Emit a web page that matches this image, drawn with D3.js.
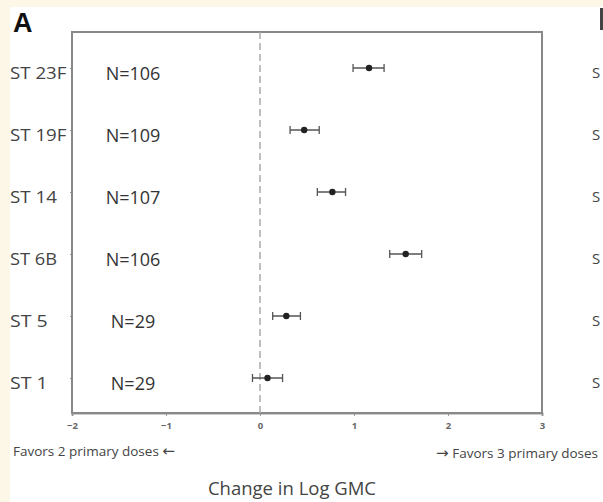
<!DOCTYPE html>
<html>
<meta charset="utf-8">
<head>
<script src="https://d3js.org/d3.v7.min.js"></script>
<style>
  body { margin: 0; background: #fff; }
  text { font-family: "Open Sans", "Noto Sans", sans-serif; }
</style>
</head>
<body>
<div id="my_dataviz"></div>
<script>
// serotypes from top to bottom
var serotypes = ["ST 23F", "ST 19F", "ST 14", "ST 6B", "ST 5", "ST 1"];
var counts = ["N=106", "N=109", "N=107", "N=106", "N=29", "N=29"];
var estimate = [1.16, 0.47, 0.77, 1.55, 0.28, 0.08];
var lower = [0.99, 0.32, 0.61, 1.38, 0.135, -0.08];
var upper = [1.32, 0.63, 0.91, 1.72, 0.43, 0.24];
var xTicks = [-2, -1, 0, 1, 2, 3];

var W = 603, H = 502;
var margin = {top: 32, right: 61, bottom: 89, left: 72},
    width = W - margin.left - margin.right,
    height = H - margin.top - margin.bottom;

var root = d3.select("#my_dataviz").append("svg")
    .attr("width", W).attr("height", H);

// cream page edge of the original figure
root.append("rect").attr("x", 0).attr("y", 0).attr("width", W).attr("height", H).attr("fill", "#fcf7e6");
root.append("rect").attr("x", 10).attr("y", 7).attr("width", W - 10).attr("height", H - 7).attr("fill", "#fff");

var svg = root.append("g")
    .attr("transform", "translate(" + margin.left + "," + margin.top + ")");

var x = d3.scaleLinear().domain([-2, 3]).range([0, width]);
var y = d3.scalePoint().domain(serotypes).range([36, height - 35]);

// x axis
var xAxis = svg.append("g")
    .attr("transform", "translate(0," + height + ")")
    .call(d3.axisBottom(x).tickValues(xTicks).tickSize(3).tickPadding(6).tickFormat(d3.format("d")));
xAxis.select(".domain").attr("stroke", "#999").attr("stroke-width", 2);
xAxis.selectAll(".tick line").attr("stroke", "#999");
xAxis.selectAll(".tick text").attr("fill", "#666").style("font-size", "9.5px").style("font-weight", "bold");

// y axis
var yAxis = svg.append("g")
    .call(d3.axisLeft(y).tickSize(2).tickPadding(3));
yAxis.select(".domain").remove();
yAxis.selectAll(".tick line").attr("stroke", "#999");
yAxis.selectAll(".tick text").attr("fill", "#444").attr("dy", "0.65em")
    .attr("text-anchor", "start").attr("x", -62).style("font-size", "16.5px")
    .attr("textLength", function(d) { return d.length * 9.4; }).attr("lengthAdjust", "spacingAndGlyphs");

// frame
svg.append("rect").attr("x", 0).attr("y", 0).attr("width", width).attr("height", height)
    .attr("fill", "none").attr("stroke", "#888").attr("stroke-width", 2);

// line of no difference
svg.append("line")
    .attr("x1", x(0)).attr("x2", x(0)).attr("y1", 0).attr("y2", height)
    .attr("stroke", "#aaa").attr("stroke-width", 1.5).attr("stroke-dasharray", "7,4");

// N labels
svg.selectAll(".nlab").data(counts).enter().append("text")
    .attr("x", 61).attr("y", function(d, i) { return y(serotypes[i]); })
    .attr("dy", "0.65em").attr("text-anchor", "middle")
    .attr("fill", "#333").style("font-size", "18px")
    .text(function(d) { return d; });

// error bars
var rows = svg.selectAll(".row").data(serotypes).enter().append("g");
rows.append("line")
    .attr("x1", function(d, i) { return x(lower[i]); })
    .attr("x2", function(d, i) { return x(upper[i]); })
    .attr("y1", function(d) { return y(d); }).attr("y2", function(d) { return y(d); })
    .attr("stroke", "#555").attr("stroke-width", 1.5);
rows.append("line")
    .attr("x1", function(d, i) { return x(lower[i]); })
    .attr("x2", function(d, i) { return x(lower[i]); })
    .attr("y1", function(d) { return y(d) - 4; }).attr("y2", function(d) { return y(d) + 4; })
    .attr("stroke", "#555").attr("stroke-width", 1.3);
rows.append("line")
    .attr("x1", function(d, i) { return x(upper[i]); })
    .attr("x2", function(d, i) { return x(upper[i]); })
    .attr("y1", function(d) { return y(d) - 4; }).attr("y2", function(d) { return y(d) + 4; })
    .attr("stroke", "#555").attr("stroke-width", 1.3);
rows.append("circle")
    .attr("cx", function(d, i) { return x(estimate[i]); })
    .attr("cy", function(d) { return y(d); })
    .attr("r", 3.2).attr("fill", "#222");

// panel letter
root.append("text").attr("x", 13).attr("y", 32)
    .style("font-family", "Liberation Sans, Arial, sans-serif")
    .style("font-size", "27px").style("font-weight", "bold").attr("fill", "#111").text("A");

// neighbouring panel, at the edge
root.append("rect").attr("x", 600).attr("y", 8).attr("width", 3).attr("height", 22).attr("fill", "#444");
root.selectAll(".bcut").data(serotypes).enter().append("text")
    .attr("x", 592).attr("y", function(d) { return margin.top + y(d); })
    .attr("dy", "0.65em").attr("fill", "#444").style("font-size", "15px")
    .text("S");

// direction notes
var left = root.append("text").attr("x", 13).attr("y", 456)
    .attr("fill", "#444").style("font-size", "13.5px");
left.append("tspan").text("Favors 2 primary doses ");
left.append("tspan").style("font-family", "DejaVu Sans").style("font-size", "15px").text("\u2190");
var right = root.append("text").attr("x", 598).attr("y", 458).attr("text-anchor", "end")
    .attr("fill", "#444").style("font-size", "13.5px");
right.append("tspan").style("font-family", "DejaVu Sans").style("font-size", "15px").text("\u2192");
right.append("tspan").text(" Favors 3 primary doses");

// axis title
root.append("text").attr("x", 292).attr("y", 495).attr("text-anchor", "middle")
    .attr("fill", "#444").style("font-size", "18.5px")
    .text("Change in Log GMC");
</script>
</body>
</html>
